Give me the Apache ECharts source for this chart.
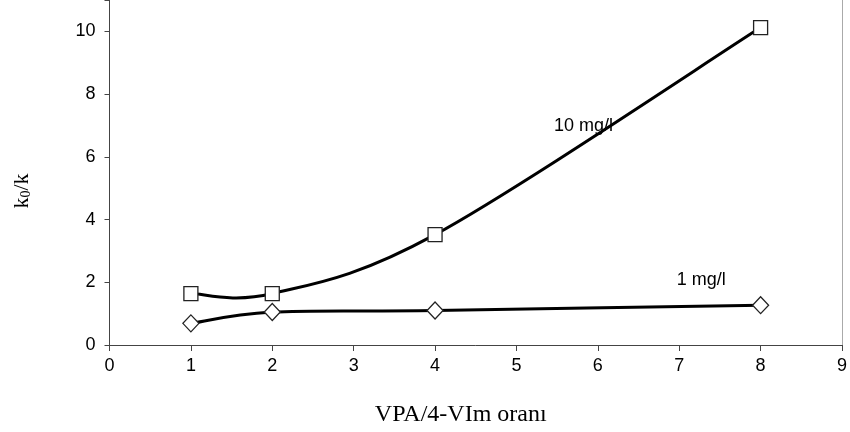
<!DOCTYPE html>
<html>
<head>
<meta charset="utf-8">
<script src="https://cdn.jsdelivr.net/npm/echarts@6/dist/echarts.min.js"></script>
<style>html,body{margin:0;padding:0;background:#fff}#c{width:850px;height:432px}</style>
</head>
<body>
<div id="c"></div>
<script>
// VPA/4-VIm ratios and measured k0/k ratios
const ratios = [1, 2, 4, 8];
const k10 = [1.64, 1.64, 3.52, 10.12];   // 10 mg/l
const k1 = [0.69, 1.05, 1.1, 1.27];      // 1 mg/l
const xTicks = [0, 1, 2, 3, 4, 5, 6, 7, 8, 9];
const yTicks = [0, 2, 4, 6, 8, 10];
const seriesNames = ['10 mg/l', '1 mg/l'];
// label anchors in data units (x, y)
const labelAnchors = [[5.46, 6.98], [6.97, 2.07]];

const chart = echarts.init(document.getElementById('c'));
const pair = (xs, ys) => xs.map((x, i) => [x, ys[i]]);
const sans = 'Liberation Sans, Arial, sans-serif';
const serif = 'Liberation Serif, Times New Roman, serif';

// Cardinal-spline segment (Catmull-Rom, 1/6 handles) between point i and i+1
function splineSegment(pts) {
  return function (params, api) {
    const i = params.dataIndex;
    if (i >= pts.length - 1) return null;
    const P = pts.map(p => api.coord(p));
    const p0 = P[Math.max(i - 1, 0)], p1 = P[i], p2 = P[i + 1], p3 = P[Math.min(i + 2, P.length - 1)];
    const c1 = [p1[0] + (p2[0] - p0[0]) / 6, p1[1] + (p2[1] - p0[1]) / 6];
    const c2 = [p2[0] - (p3[0] - p1[0]) / 6, p2[1] - (p3[1] - p1[1]) / 6];
    return {
      type: 'bezierCurve',
      shape: { x1: p1[0], y1: p1[1], cpx1: c1[0], cpy1: c1[1], cpx2: c2[0], cpy2: c2[1], x2: p2[0], y2: p2[1] },
      style: { stroke: '#000', lineWidth: 3, fill: null }
    };
  };
}

function curveSeries(name, ys) {
  const pts = pair(ratios, ys);
  return {
    name: name, type: 'custom', coordinateSystem: 'cartesian2d',
    data: pts, renderItem: splineSegment(pts), z: 2, silent: true
  };
}

function markerSeries(name, ys, symbol, size) {
  return {
    name: name, type: 'scatter', data: pair(ratios, ys),
    symbol: symbol, symbolSize: size,
    itemStyle: { color: '#fff', borderColor: '#222', borderWidth: 1.3, opacity: 1 },
    z: 4
  };
}

chart.setOption({
  animation: false,
  grid: { left: 109.5, right: 5, top: 0, bottom: 86 },
  xAxis: {
    type: 'value', min: xTicks[0], max: xTicks[xTicks.length - 1], interval: 1,
    name: 'VPA/4-VIm oranı', nameLocation: 'middle', nameGap: 58,
    nameTextStyle: { fontFamily: serif, fontSize: 24, color: '#000', padding: [0, 30, 0, 0] },
    axisLine: { lineStyle: { color: '#444', width: 1 } },
    axisTick: { length: 6, lineStyle: { color: '#444' } },
    axisLabel: { fontFamily: sans, fontSize: 18, color: '#000', margin: 12 },
    splitLine: { show: false }
  },
  yAxis: [{
    type: 'value', min: 0, max: 11, interval: 2,
    axisLine: { show: true, lineStyle: { color: '#444', width: 1 } },
    axisTick: { show: true, length: 5, lineStyle: { color: '#444' } },
    axisLabel: {
      fontFamily: sans, fontSize: 18, color: '#000', margin: 14,
      formatter: v => (yTicks.indexOf(v) >= 0 ? String(v) : '')
    },
    splitLine: { show: false }
  }, {
    type: 'value', min: 0, max: 11, position: 'right',
    axisLine: { show: true, lineStyle: { color: '#aaa', width: 1 } },
    axisTick: { show: false }, axisLabel: { show: false }, splitLine: { show: false }
  }],
  series: [
    curveSeries(seriesNames[0], k10),
    curveSeries(seriesNames[1], k1),
    markerSeries(seriesNames[0], k10, 'rect', 14),
    markerSeries(seriesNames[1], k1, 'diamond', [16, 17])
  ]
});

// series name labels placed beside the curves
const nameLabels = seriesNames.map((name, i) => {
  const p = chart.convertToPixel({ gridIndex: 0 }, labelAnchors[i]);
  return {
    type: 'text', x: p[0], y: p[1], z: 10,
    style: { text: name, fontFamily: sans, fontSize: 18, fill: '#000', textVerticalAlign: 'middle', textAlign: 'left' }
  };
});

// y-axis title k0/k with subscript, reading bottom to top
const yTitle = {
  type: 'text', x: 22, y: 191, rotation: Math.PI / 2, z: 10,
  style: {
    text: '{a|k}{b|0}{a|/k}',
    textAlign: 'center', textVerticalAlign: 'middle',
    rich: {
      a: { fontFamily: serif, fontSize: 22, fill: '#000' },
      b: { fontFamily: serif, fontSize: 14, fill: '#000', verticalAlign: 'bottom', padding: [8, 0, 0, 0] }
    }
  }
};

chart.setOption({ graphic: nameLabels.concat([yTitle]) });
</script>
</body>
</html>
